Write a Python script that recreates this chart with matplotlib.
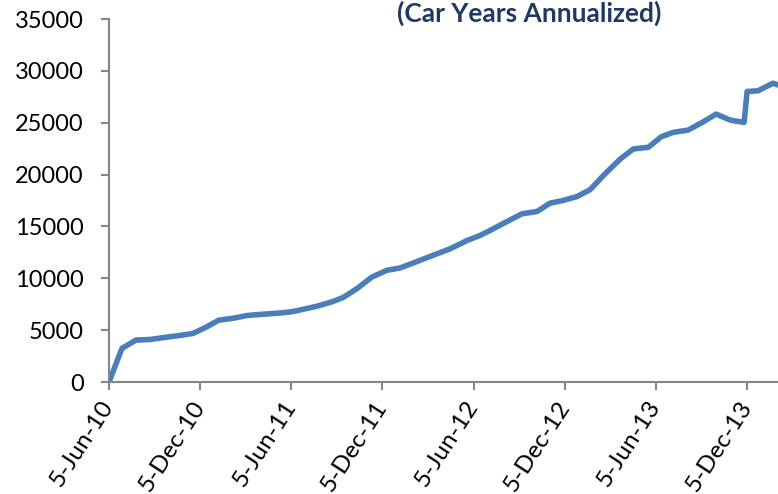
import pandas as pd
import numpy as np
import matplotlib.pyplot as plt
import matplotlib.dates as mdates

## Cumulative car years
dates = ['2010-06-05', '2010-07-01', '2010-07-29', '2010-08-26', '2010-09-25',
         '2010-10-25', '2010-11-20', '2010-12-14', '2011-01-11', '2011-02-09',
         '2011-03-09', '2011-04-10', '2011-05-14', '2011-06-07', '2011-07-03',
         '2011-07-27', '2011-08-24', '2011-09-17', '2011-10-15', '2011-11-14',
         '2011-12-14', '2012-01-09', '2012-02-13', '2012-03-24', '2012-04-19',
         '2012-05-23', '2012-06-18', '2012-07-14', '2012-08-11', '2012-09-10',
         '2012-10-10', '2012-11-05', '2012-12-01', '2012-12-29', '2013-01-24',
         '2013-02-23', '2013-03-26', '2013-04-21', '2013-05-21', '2013-06-16',
         '2013-07-10', '2013-08-09', '2013-09-06', '2013-10-04', '2013-11-01',
         '2013-11-29', '2013-12-05', '2013-12-27', '2014-01-26', '2014-02-25']
car_years = [0, 3240, 4040, 4100, 4300,
             4490, 4680, 5220, 5960, 6150,
             6410, 6540, 6650, 6780, 7050,
             7310, 7700, 8140, 9000, 10120,
             10770, 10990, 11630, 12370, 12850,
             13650, 14130, 14770, 15480, 16220,
             16440, 17240, 17500, 17880, 18530,
             20060, 21510, 22470, 22630, 23650,
             24070, 24290, 25030, 25830, 25250,
             25030, 28010, 28080, 28810, 28300]
tick_dates = ['2010-06-05', '2010-12-05', '2011-06-05', '2011-12-05',
              '2012-06-05', '2012-12-05', '2013-06-05', '2013-12-05']
title = '(Car Years Annualized)'

x = pd.to_datetime(dates)
ticks = pd.to_datetime(tick_dates)

fig = plt.figure(figsize=(7.78, 4.94), dpi=100)
ax = fig.add_axes([109 / 778, 112 / 494, 683 / 778, 363 / 494])

ax.plot(x, car_years, color='#4A7EBB', lw=4, solid_joinstyle='round')

ax.set_xlim(pd.Timestamp('2010-06-05'), pd.Timestamp('2014-03-05'))
ax.set_ylim(0, 35000)
ax.set_yticks(np.arange(0, 35001, 5000))
ax.set_xticks(ticks)
ax.xaxis.set_major_formatter(mdates.DateFormatter('%-d-%b-%y'))

for s in ['top', 'right']:
    ax.spines[s].set_visible(False)
for s in ['left', 'bottom']:
    ax.spines[s].set_color('#868686')
    ax.spines[s].set_linewidth(1.5)
    ax.spines[s].set_clip_on(False)

ax.tick_params(axis='both', direction='out', length=6, width=1.5, color='#868686')
ax.tick_params(axis='y', pad=12)
ax.tick_params(axis='x', pad=9)
for lab in ax.get_yticklabels():
    lab.set_fontfamily('Lato')
    lab.set_fontsize(17)
for lab in ax.get_xticklabels():
    lab.set_fontfamily('Lato')
    lab.set_fontsize(17.5)
    lab.set_rotation(57)
    lab.set_ha('right')
    lab.set_va('center')
    lab.set_rotation_mode('anchor')

fig.text(529 / 778, 0.999, title, ha='center', va='top', fontsize=19,
         fontweight='bold', family='Lato', color='#1F3864')

fig.savefig('out.png', dpi=100)
